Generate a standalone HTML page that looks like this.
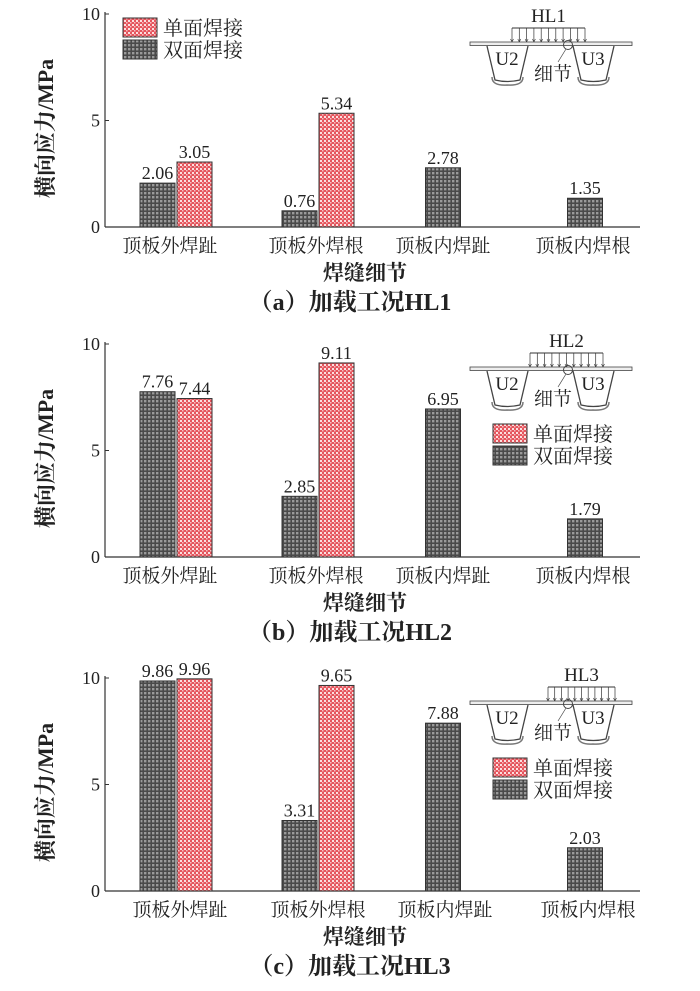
<!DOCTYPE html>
<html><head><meta charset="utf-8"><style>
body{margin:0;background:#fff}
svg{display:block}
text{font-family:"Liberation Serif","Noto Serif CJK SC",serif;fill:#222}
</style></head><body>
<svg id="c" width="700" height="991" xmlns="http://www.w3.org/2000/svg">
<defs>
<pattern id="pr" width="4" height="4" patternUnits="userSpaceOnUse"><rect width="4" height="4" fill="#e5555d"/><rect x="0" y="0" width="2" height="2" fill="#fbe0e0"/><rect x="2" y="2" width="1.5" height="1.5" fill="#f6c0c2"/></pattern>
<pattern id="pg" width="4" height="4" patternUnits="userSpaceOnUse"><rect width="4" height="4" fill="#4a4a4a"/><rect x="0" y="0" width="2.4" height="2.4" fill="#9a9a9a"/></pattern>
</defs>
</svg>
<script>
const categories=['顶板外焊趾','顶板外焊根','顶板内焊趾','顶板内焊根'];
const singleHL1=[3.05,5.34,null,null];
const doubleHL1=[2.06,0.76,2.78,1.35];
const singleHL2=[7.44,9.11,null,null];
const doubleHL2=[7.76,2.85,6.95,1.79];
const singleHL3=[9.96,9.65,null,null];
const doubleHL3=[9.86,3.31,7.88,2.03];
const yTicks=[0,5,10];
const captions=['（a）加载工况HL1','（b）加载工况HL2','（c）加载工况HL3'];
const loads=['HL1','HL2','HL3'];

const svg=document.getElementById('c');
const NS='http://www.w3.org/2000/svg';
function mk(tag,at,txt){const e=document.createElementNS(NS,tag);for(const k in at)e.setAttribute(k,at[k]);if(txt!=null)e.textContent=txt;svg.appendChild(e);return e;}

const panels=[
 {top:14,bot:227,single:singleHL1,dbl:doubleHL1,centers:[176,318,443,585],lab:[170,316,443,583],inX:470,inY:12,leg:[123,18]},
 {top:344,bot:557,single:singleHL2,dbl:doubleHL2,centers:[176,318,443,585],lab:[170,316,443,583],inX:470,inY:337,leg:[493,424]},
 {top:678,bot:891,single:singleHL3,dbl:doubleHL3,centers:[176,318,443,585],lab:[180,318,445,588],inX:470,inY:671,leg:[493,758]}
];
const X0=105,X1=640,BW=35;

panels.forEach((p,pi)=>{
 const y=v=>p.bot-(v/10)*(p.bot-p.top);
 let e;
 e=mk('line',{x1:X0,y1:p.top-2,x2:X0,y2:p.bot,stroke:'#333','stroke-width':1.2});
 
 
 e=mk('line',{x1:X0,y1:p.bot,x2:X1,y2:p.bot,stroke:'#333','stroke-width':1.2});
 
 
 yTicks.forEach(t=>{
  mk('line',{x1:X0,y1:y(t),x2:X0+4,y2:y(t),stroke:'#333'});
  e=mk('text',{x:X0-5,y:y(t)+6,'text-anchor':'end','font-size':18},t);
  
  
 });
 e=mk('text',{x:0,y:0,'font-size':22,'font-weight':'bold','text-anchor':'middle',transform:`translate(53,${(p.top+p.bot)/2+8}) rotate(-90)`},'横向应力/MPa');
 
 
 categories.forEach((c,i)=>{
  const cx=p.centers[i];
  const hasS=p.single[i]!=null;
  const bars=hasS?[[p.dbl[i],'pg',cx-BW-1],[p.single[i],'pr',cx+1]]:[[p.dbl[i],'pg',cx-BW/2]];
  bars.forEach(([v,pat,bx])=>{
   e=mk('rect',{x:bx,y:y(v),width:BW,height:p.bot-y(v),fill:`url(#${pat})`,stroke:'#333','stroke-width':1});
   
   
   e=mk('text',{x:bx+BW/2,y:y(v)-4,'text-anchor':'middle','font-size':18},v.toFixed(2));
   
   
  });
  e=mk('text',{x:p.lab[i],y:p.bot+25,'text-anchor':'middle','font-size':19},c);
  
  
 });
 e=mk('text',{x:365,y:p.bot+53,'text-anchor':'middle','font-size':21,'font-weight':'bold'},'焊缝细节');
 
 
 e=mk('text',{x:350,y:p.bot+83,'text-anchor':'middle','font-size':24,'font-weight':'bold'},captions[pi]);
 
 
 const [lx,ly]=p.leg;
 [['pr','单面焊接'],['pg','双面焊接']].forEach(([pat,t],k)=>{
  e=mk('rect',{x:lx,y:ly+k*22,width:34,height:19,fill:`url(#${pat})`,stroke:'#333'});
  
  
  e=mk('text',{x:lx+40,y:ly+k*22+17,'font-size':20},t);
  
  
 });
 const ix=p.inX,iy=p.inY;
 const g=document.createElementNS(NS,'g');
 
 
 svg.appendChild(g);
 function gk(tag,at,txt){const el=mk(tag,at,txt);g.appendChild(el);return el;}
 const lo=[[512,585],[530,603],[548,615]][pi];
 const D=iy+30;
 gk('text',{x:(lo[0]+lo[1])/2,y:iy+10,'text-anchor':'middle','font-size':19},loads[pi]);
 gk('line',{x1:lo[0],y1:iy+16,x2:lo[1],y2:iy+16,stroke:'#333'});
 for(let a=lo[0];a<=lo[1]+0.1;a+=(lo[1]-lo[0])/10){gk('line',{x1:a,y1:iy+16,x2:a,y2:D,stroke:'#333','stroke-width':0.7});gk('path',{d:`M${a-1.5} ${D-3}L${a} ${D}L${a+1.5} ${D-3}`,fill:'none',stroke:'#333','stroke-width':0.6});}
 gk('rect',{x:ix,y:D,width:162,height:3.5,fill:'#eee',stroke:'#444','stroke-width':0.8});
 [[487,'U2'],[573,'U3']].forEach(([ux,t])=>{
  gk('path',{d:`M${ux} ${D+4}L${ux+8} ${D+38}Q${ux+20} ${D+41} ${ux+33} ${D+38}L${ux+41} ${D+4}`,fill:'none',stroke:'#444','stroke-width':1.3});
  gk('path',{d:`M${ux+5} ${D+35}Q${ux+5} ${D+44} ${ux+20} ${D+43}Q${ux+36} ${D+44} ${ux+36} ${D+35}`,fill:'none',stroke:'#777','stroke-width':1.5});
  gk('text',{x:ux+20,y:D+23,'text-anchor':'middle','font-size':19},t);
 });
 gk('circle',{cx:568,cy:D+3,r:4.5,fill:'none',stroke:'#444'});
 gk('line',{x1:566,y1:D+7,x2:558,y2:D+20,stroke:'#444','stroke-width':0.7});
 gk('text',{x:553,y:D+38,'text-anchor':'middle','font-size':19},'细节');
});
</script>
</body></html>
